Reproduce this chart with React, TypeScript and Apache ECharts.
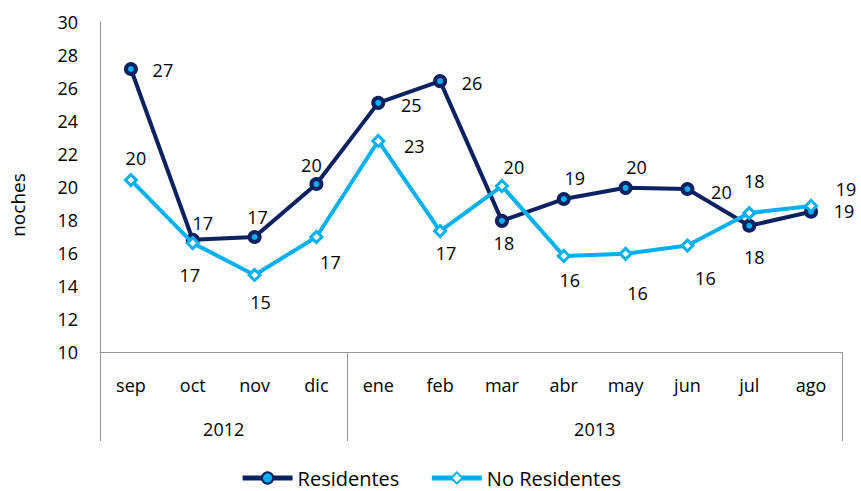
import React, { useEffect, useRef } from "react";
import * as echarts from "echarts";

const months = ["sep", "oct", "nov", "dic", "ene", "feb", "mar", "abr", "may", "jun", "jul", "ago"];
const yearLabels = ["2012", "2013"];
const yearCenters = [1.5, 7.5];
const yearSeparators = [-0.5, 3.5, 11.5];
const residentes = [27.15, 16.8, 16.97, 20.18, 25.1, 26.42, 17.95, 19.27, 19.95, 19.88, 17.65, 18.5];
const noResidentes = [20.42, 16.6, 14.67, 16.97, 22.79, 17.33, 20.06, 15.82, 15.95, 16.45, 18.42, 18.85];
const resOffsets: [number, number][] = [[32, 1], [10, -17], [3, -20], [-5, -19], [33, 2], [32, 2], [2, 22], [11, -21], [11, -21], [34, 3], [5, 31], [33, -1]];
const noResOffsets: [number, number][] = [[5, -22], [-3, 32], [6, 27], [14, 25], [36, 5], [6, 22], [12, -19], [6, 24], [12, 39], [18, 32], [5, -32], [35, -17]];

const FONT = "Open Sans";
const NAVY = "#0b2160";
const LIGHT = "#00b0f0";
const AXIS = "#969696";

function withLabels(vals: number[], offs: [number, number][]) {
  return vals.map((v, i) => ({
    value: v,
    label: { offset: offs[i] },
  }));
}

export default function App() {
  const ref = useRef<HTMLDivElement>(null);
  useEffect(() => {
    document.body.style.margin = "0";
    if (!ref.current) return;
    const chart = echarts.init(ref.current, undefined, { renderer: "svg" });
    const labelCommon = {
      show: true,
      position: "inside",
      align: "center",
      verticalAlign: "middle",
      fontFamily: FONT,
      fontSize: 18,
      color: "#000",
      formatter: (p: any) => String(Math.round(p.value)),
    };
    chart.setOption({
      animation: false,
      grid: { left: 100, right: 19, top: 22, bottom: 139 },
      legend: {
        bottom: 0,
        left: "center",
        padding: [5, 5, 2, 5],
        itemWidth: 50,
        itemHeight: 14,
        itemGap: 30,
        lineStyle: { width: 5 },
        textStyle: { fontFamily: FONT, fontSize: 20, color: "#000", lineHeight: 22 },
        data: ["Residentes", "No Residentes"],
      },
      xAxis: [
        {
          type: "category",
          data: months,
          boundaryGap: true,
          axisLine: { show: true, lineStyle: { color: AXIS, width: 1 } },
          axisTick: { show: false },
          axisLabel: { fontFamily: FONT, fontSize: 18, color: "#000", margin: 24, interval: 0 },
        },
        {
          type: "value",
          position: "bottom",
          min: -0.5,
          max: 11.5,
          axisLine: { show: false },
          splitLine: { show: false },
          axisTick: {
            show: true,
            customValues: yearSeparators,
            length: 89,
            lineStyle: { color: AXIS, width: 1 },
          },
          axisLabel: {
            show: true,
            customValues: yearCenters,
            formatter: (v: number) => yearLabels[yearCenters.indexOf(v)] ?? "",
            fontFamily: FONT,
            fontSize: 18,
            color: "#000",
            margin: 68,
          },
        },
      ],
      yAxis: {
        type: "value",
        min: 10,
        max: 30,
        interval: 2,
        name: "noches",
        nameLocation: "middle",
        nameGap: 73,
        nameTextStyle: { fontFamily: FONT, fontSize: 19, color: "#000", padding: [0, 36, 0, 0] },
        axisLine: { show: true, onZero: false, lineStyle: { color: AXIS, width: 1 } },
        axisTick: { show: false },
        splitLine: { show: false },
        axisLabel: { fontFamily: FONT, fontSize: 18, color: "#000", margin: 22 },
      },
      series: [
        {
          name: "Residentes",
          type: "line",
          xAxisIndex: 0,
          data: withLabels(residentes, resOffsets),
          symbol: "circle",
          symbolSize: 10,
          lineStyle: { color: NAVY, width: 4 },
          itemStyle: { color: LIGHT, borderColor: NAVY, borderWidth: 4 },
          label: labelCommon,
          z: 2,
        },
        {
          name: "No Residentes",
          type: "line",
          xAxisIndex: 0,
          data: withLabels(noResidentes, noResOffsets),
          symbol: "diamond",
          symbolSize: 11,
          lineStyle: { color: LIGHT, width: 4 },
          itemStyle: { color: "#fff", borderColor: LIGHT, borderWidth: 3 },
          label: labelCommon,
          z: 3,
        },
      ],
    });
    return () => chart.dispose();
  }, []);
  return <div ref={ref} style={{ width: 861, height: 491 }} />;
}
